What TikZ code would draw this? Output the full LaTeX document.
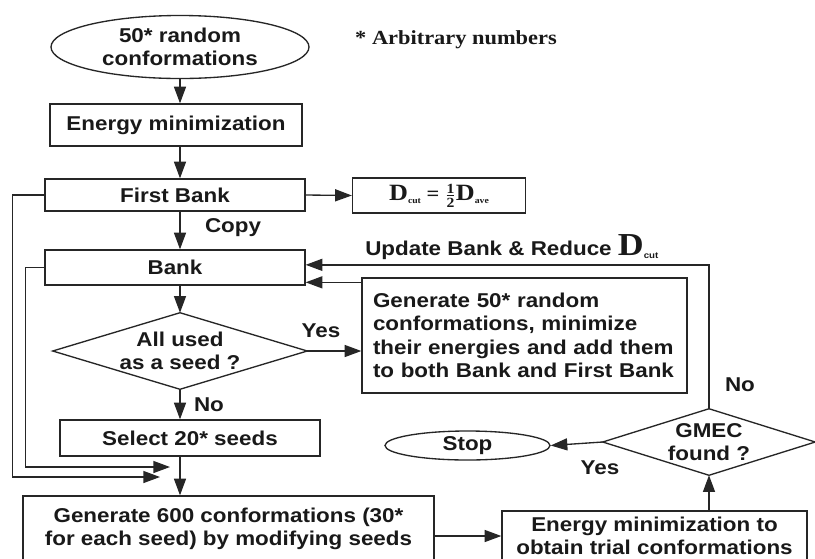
\documentclass[tikz,border=0pt]{standalone}
\usepackage{fontspec}
\usepackage{amsmath}
\setmainfont{Liberation Sans}[FakeStretch=1.12]
\newfontfamily\tms{Liberation Serif}[FakeStretch=1.12]
\usetikzlibrary{arrows.meta,shapes.geometric,calc}
\newcommand\subcut[1]{\raisebox{-2.5pt}{\fontsize{6.5}{7}\selectfont #1}}
\begin{document}
\begin{tikzpicture}[x=0.75pt,y=-0.75pt,
  sz/.style 2 args={minimum width=#1*0.75pt,minimum height=#2*0.75pt},
  txt/.style={font=\fontsize{15}{17.6}\selectfont\bfseries, text=black!90, align=center, inner sep=0pt},
  boxn/.style={txt, draw=black!85, line width=1pt, rectangle},
  ell/.style={txt, draw=black!85, line width=1pt, ellipse},
  ln/.style={draw=black!85, line width=1pt},
  arr/.style={ln, -{Triangle[length=12.5pt,width=9pt]}},
  serifbold/.style={font=\tms\fontsize{15}{17}\selectfont\bfseries}
]
\useasboundingbox (0,0) rectangle (815,558);
\fill[white] (0,0) rectangle (815,558);
\clip (0,0) rectangle (815,558);

% nodes
\node[ell, sz={258}{63}] (start) at (180,47) {50* random\\conformations};
\node[txt, serifbold] (note) at (456,40) {* Arbitrary numbers};
\node[boxn, sz={252}{42}] (em1) at (176,125) {Energy minimization};
\node[boxn, sz={260}{32}] (fb) at (175,195) {First Bank};
\node[boxn, sz={173}{35}, serifbold] (dcut) at (439,195.5) {{\fontsize{17.5}{18}\selectfont D}\subcut{cut} = $\tfrac{\text{1}}{\text{2}}${\fontsize{17.5}{18}\selectfont D}\subcut{ave}};
\node[txt] (copy) at (233,228) {Copy};
\node[boxn, sz={260}{35}] (bank) at (175,267.5) {Bank};
\node[txt, anchor=base west] (upd) at (365,255) {Update Bank \& Reduce {\tms\fontsize{24}{24}\selectfont D}\subcut{cut}};
\node[txt, sz={254}{76}] (d1) at (180,351) {All used\\as a seed ?};
\draw[ln] (d1.north) -- (d1.east) -- (d1.south) -- (d1.west) -- cycle;
\node[boxn, sz={325}{115}, align=left, text width=227.25pt] (gen50) at (524.5,335.5) {Generate 50* random\\conformations, minimize\\their energies and add them\\to both Bank and First Bank};
\node[txt] (yes1) at (321,331) {Yes};
\node[txt] (no1) at (209,405) {No};
\node[boxn, sz={260}{36}] (sel) at (190,438) {Select 20* seeds};
\node[boxn, sz={411}{66}] (gen600) at (228.5,529) {Generate 600 conformations (30*\\for each seed) by modifying seeds};
\node[boxn, sz={305}{50}] (em2) at (654.5,536) {Energy minimization to\\obtain trial conformations};
\node[txt, sz={212}{66}] (d2) at (709,442) {GMEC\\found ?};
\draw[ln] (d2.north) -- (d2.east) -- (d2.south) -- (d2.west) -- cycle;
\node[ell, sz={165}{29}] (stop) at (467.5,445.5) {Stop};
\node[txt] (no2) at (740,385) {No};
\node[txt] (yes2) at (600,468) {Yes};

% connectors
\draw[arr] (start.south) -- (start.south |- em1.north);
\draw[arr] (start.south |- em1.south) -- (start.south |- fb.north);
\draw[arr] (fb.east) -- (dcut.west);
\draw[arr] (start.south |- fb.south) -- (start.south |- bank.north);
\draw[arr] (start.south |- bank.south) -- (d1.north);
\draw[arr] (d1.east) -- (d1.east -| gen50.west);
\draw[arr] (d1.south) -- (d1.south |- sel.north);
\draw[arr] (d1.south |- sel.south) -- (d1.south |- gen600.north);
\coordinate (j1) at (170,467);
\coordinate (j2) at (160,477);
\draw[arr] (bank.west) -- ++(-19,0) |- (j1);
\draw[arr] (fb.west) -- ++(-32,0) |- (j2);
\coordinate (g50a) at ([yshift=-3.75pt]gen50.north west);
\draw[arr] (g50a) -- (g50a -| bank.east);
\draw[arr] (d2.north) |- ([yshift=2pt]bank.east);
\draw[arr] (d2.west) -- (stop.east);
\draw[arr] (d2.south |- em2.north) -- (d2.south);
\draw[arr] (em2.west -| gen600.east) -- (em2.west);
\end{tikzpicture}
\end{document}
